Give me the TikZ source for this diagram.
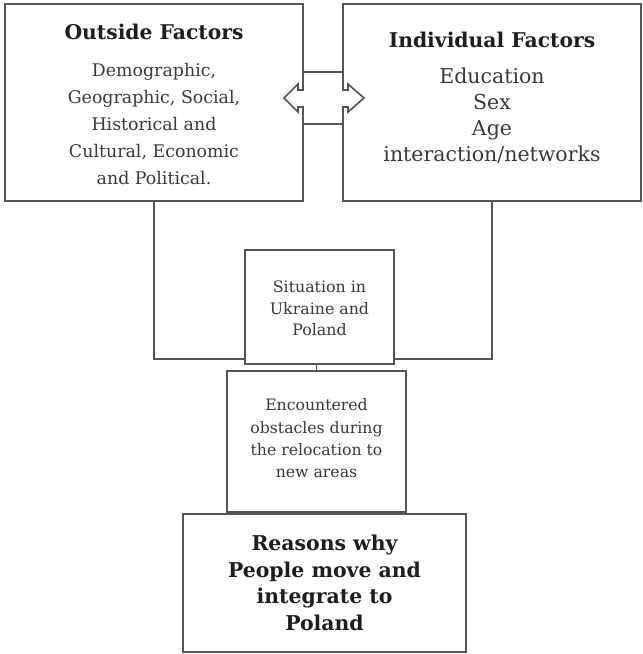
\documentclass[tikz,border=0pt]{standalone}
\usepackage{fontspec}
\setmainfont{DejaVu Serif}
\usetikzlibrary{calc}
\definecolor{linegray}{HTML}{555555}
\definecolor{textgray}{HTML}{3A3A3A}
\definecolor{titlegray}{HTML}{1E1E1E}
\tikzset{
  box/.style={draw=linegray, line width=1.6pt, fill=white, rectangle, inner sep=0pt},
  conn/.style={draw=linegray, line width=1.6pt},
  titletext/.style={text=titlegray, font=\bfseries\fontsize{20.3}{24}\selectfont, align=center, inner sep=0pt},
  bodytext/.style={text=textgray, align=center, inner sep=0pt},
}
\begin{document}
\begin{tikzpicture}[x=1pt,y=-1pt]
\useasboundingbox (0,0) rectangle (643,654);
% boxes
\node[box, minimum width=298pt, minimum height=197pt] (outside) at (154,102.5) {};
\node[box, minimum width=298pt, minimum height=197pt] (individual) at (492,102.5) {};
\node[box, minimum width=149pt, minimum height=114pt] (situation) at (319.5,307) {};
\node[box, minimum width=179pt, minimum height=141pt] (encountered) at (316.5,441.5) {};
\node[box, minimum width=283pt, minimum height=138pt] (reasons) at (324.5,583) {};
% connectors
\draw[conn] (outside.south) |- ($(situation.south west)+(0,-6)$);
\draw[conn] (individual.south) |- ($(situation.south east)+(0,-6)$);
\draw[conn] (situation.south -| encountered.north) -- (encountered.north);
% double block arrow
\draw[conn, fill=white, line join=miter]
  (303,72) -- (343,72) -- (343,90) -- (348,90) -- (348,84) -- (364,98) -- (348,112) -- (348,107)
  -- (343,107) -- (343,124) -- (303,124) -- (303,107) -- (298,107) -- (298,112) -- (284,98)
  -- (298,84) -- (298,90) -- (303,90) -- cycle;
% texts
\node[titletext] (outsidetitle) at (154,32) {Outside Factors};
\node[bodytext, font=\fontsize{17.4}{27}\selectfont] (outsidebody) at (154,124)
  {Demographic,\\Geographic, Social,\\Historical and\\Cultural, Economic\\and Political.};
\node[titletext] (individualtitle) at (492,40) {Individual Factors};
\node[bodytext, font=\fontsize{20.5}{26}\selectfont] (individualbody) at (492,116)
  {Education\\Sex\\Age\\interaction/networks};
\node[bodytext, font=\fontsize{15.8}{21.5}\selectfont] (situationtext) at (319.5,308.5)
  {Situation in\\Ukraine and\\Poland};
\node[bodytext, font=\fontsize{15.7}{22.3}\selectfont] (encounteredtext) at (316.5,438.5)
  {Encountered\\obstacles during\\the relocation to\\new areas};
\node[titletext, font=\bfseries\fontsize{20.4}{26.7}\selectfont] (reasonstext) at (324.5,583)
  {Reasons why\\People move and\\integrate to\\Poland};
\end{tikzpicture}
\end{document}
